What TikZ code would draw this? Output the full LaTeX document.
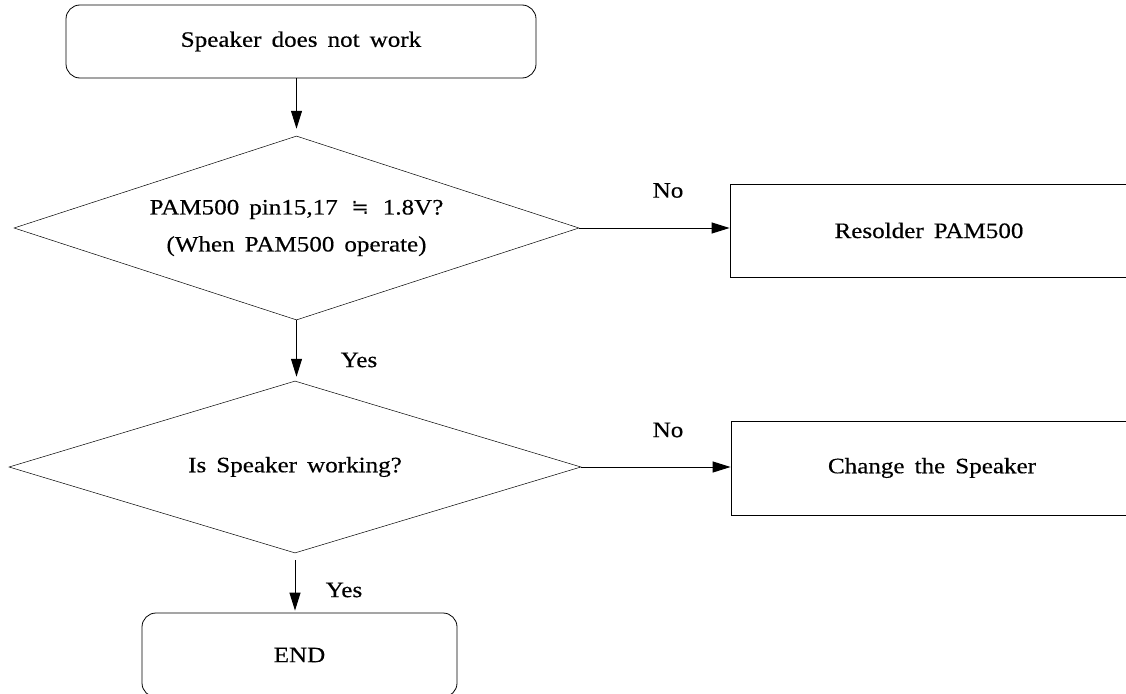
\documentclass[tikz,border=0pt]{standalone}
\usepackage{fontspec}
\setmainfont[FakeStretch=1.14,WordSpace=1.6,FakeBold=0.4]{Liberation Serif}
\newfontfamily\symfont{DejaVu Sans}
\usetikzlibrary{shapes.geometric,arrows.meta}
\begin{document}
\begin{tikzpicture}[x=1pt,y=-1pt,
  every node/.style={font=\fontsize{22pt}{37pt}\selectfont},
  termbox/.style={draw, line width=0.8pt, rounded corners=14pt, inner sep=0pt},
  procbox/.style={draw, line width=0.8pt, inner sep=0pt},
  decision/.style={draw, diamond, line width=0.5pt, inner sep=0pt, align=center, aspect=3},
  flow/.style={line width=1pt, -{Triangle[length=18pt,width=11pt]}},
  lbl/.style={inner sep=0pt}]
\useasboundingbox (0,0) rectangle (1126,693);
\node[termbox, minimum width=470pt, minimum height=73pt] (start) at (301,41.5) {Speaker does not work};
\node[decision, minimum width=565pt, minimum height=184pt] (d1) at (296.5,228) {PAM500 pin15,17 \,{\symfont\fontsize{21pt}{37pt}\selectfont ≒}\, 1.8V?\\(When PAM500 operate)};
\node[procbox, minimum width=398pt, minimum height=93pt] (r1) at (929,230.5) {Resolder PAM500};
\node[decision, minimum width=572pt, minimum height=172pt] (d2) at (295,467) {Is Speaker working?};
\node[procbox, minimum width=402pt, minimum height=94pt] (r2) at (932,468) {Change the Speaker};
\node[termbox, minimum width=315pt, minimum height=84pt] (end) at (299.5,655) {END};
\node[lbl] (no1) at (668,190.5) {No};
\node[lbl] (yes1) at (359,360) {Yes};
\node[lbl] (no2) at (668,430) {No};
\node[lbl] (yes2) at (344,590) {Yes};
\draw[flow, shorten >=7pt] (start.south -| d1.north) -- (d1.north);
\draw[flow] (d1.east) -- (d1.east -| r1.west);
\draw[flow, shorten >=4pt] (d1.south) -- (d1.south |- d2.north);
\draw[flow] (d2.east) -- (d2.east -| r2.west);
\draw[flow, shorten <=7pt, shorten >=2pt] (d2.south) -- (d2.south |- end.north);
\end{tikzpicture}
\end{document}
